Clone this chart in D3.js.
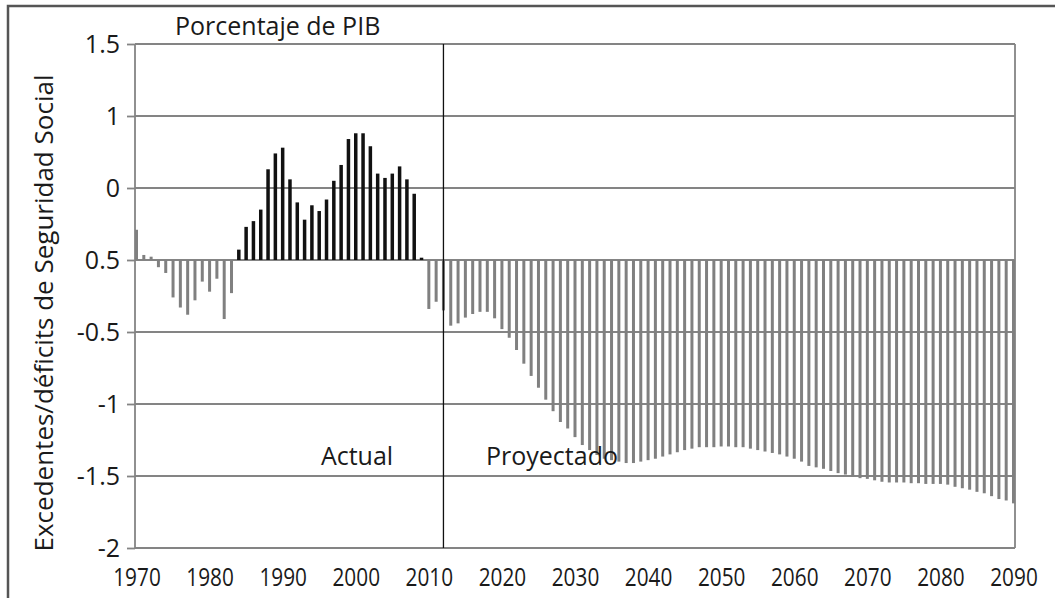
<!DOCTYPE html>
<html>
<head>
<meta charset="utf-8">
<script src="https://cdn.jsdelivr.net/npm/d3@7/dist/d3.min.js"></script>
<style>
  body { margin: 0; background: #fff; }
  svg { display: block; }
  text { font-family: "Open Sans", "Noto Sans", sans-serif; fill: #1a1a1a; }
</style>
</head>
<body>
<div id="chart"></div>
<script>
// years 1970..2090, one bar each
const firstYear = 1970;
const lastYear = 2090;
const dividerYear = 2012;
const darkFrom = 1984, darkTo = 2009;

// surplus / deficit, % of GDP
const actualValues = [
  0.21, 0.035, 0.023, -0.05, -0.09, -0.26, -0.33, -0.38, -0.28, -0.15,
  -0.22, -0.13, -0.41, -0.23, 0.072, 0.23, 0.27, 0.35, 0.63, 0.74,
  0.78, 0.56, 0.40, 0.28, 0.38, 0.34, 0.42, 0.55, 0.66, 0.84,
  0.88, 0.88, 0.79, 0.60, 0.57, 0.60, 0.65, 0.56, 0.46, 0.016,
  -0.34, -0.29
];
const projectedValues = [
  -0.35, -0.456, -0.44, -0.40, -0.375, -0.36, -0.36, -0.405,
  -0.48, -0.54, -0.625, -0.72, -0.805, -0.887, -0.97, -1.05, -1.125, -1.17,
  -1.23, -1.285, -1.32, -1.354, -1.38, -1.39, -1.40, -1.41, -1.41, -1.40,
  -1.39, -1.38, -1.365, -1.35, -1.335, -1.32, -1.31, -1.30, -1.30, -1.30,
  -1.295, -1.295, -1.30, -1.30, -1.31, -1.32, -1.33, -1.34, -1.35, -1.365,
  -1.38, -1.40, -1.43, -1.44, -1.45, -1.465, -1.48, -1.49, -1.505, -1.515,
  -1.52, -1.53, -1.54, -1.545, -1.545, -1.545, -1.55, -1.55, -1.555, -1.555,
  -1.555, -1.56, -1.575, -1.585, -1.595, -1.61, -1.62, -1.64, -1.66, -1.67,
  -1.69
];

const yTickValues = [1.5, 1, 0.5, 0, -0.5, -1, -1.5, -2];
const yTickLabels = ['1.5', '1', '0', '0.5', '-0.5', '-1', '-1.5', '-2'];
const xTickValues = d3.range(1970, 2091, 10);

const titleText = 'Porcentaje de PIB';
const yTitle = 'Excedentes/déficits de Seguridad Social';

const width = 1055, height = 598;
const plotLeft = 135, plotRight = 1015, plotTop = 44, plotBottom = 548;

const values = actualValues.concat(projectedValues);
const data = values.map((v, i) => ({ year: firstYear + i, value: v }));

const svg = d3.select('#chart').append('svg')
  .attr('width', width)
  .attr('height', height);

const x = d3.scaleLinear().domain([firstYear, lastYear]).range([plotLeft + 1.5, plotRight - 1.5]);
const y = d3.scaleLinear().domain([-2, 1.5]).range([plotBottom, plotTop]);

// outer frame (top and left only)
svg.append('path')
  .attr('d', `M8,${height} V6 H${width}`)
  .attr('fill', 'none')
  .attr('stroke', '#555')
  .attr('stroke-width', 2.5);

// gridlines
svg.append('g')
  .selectAll('line')
  .data(yTickValues)
  .join('line')
  .attr('x1', plotLeft).attr('x2', plotRight)
  .attr('y1', d => y(d)).attr('y2', d => y(d))
  .attr('stroke', '#848484')
  .attr('stroke-width', 1.8);

// plot sides
svg.append('g')
  .selectAll('line')
  .data([plotLeft, plotRight])
  .join('line')
  .attr('x1', d => d).attr('x2', d => d)
  .attr('y1', plotTop).attr('y2', plotBottom)
  .attr('stroke', '#848484')
  .attr('stroke-width', 1.8);

// bars
svg.append('g')
  .selectAll('rect')
  .data(data)
  .join('rect')
  .attr('x', d => x(d.year) - (d.year >= darkFrom && d.year <= darkTo ? 1.75 : 1.5))
  .attr('width', d => d.year >= darkFrom && d.year <= darkTo ? 3.5 : 3)
  .attr('y', d => y(Math.max(0, d.value)))
  .attr('height', d => Math.abs(y(d.value) - y(0)))
  .attr('fill', d => (d.year >= darkFrom && d.year <= darkTo) ? '#111' : '#808080');

// actual / projected divider
svg.append('line')
  .attr('x1', x(dividerYear)).attr('x2', x(dividerYear))
  .attr('y1', plotTop).attr('y2', plotBottom)
  .attr('stroke', '#111')
  .attr('stroke-width', 1.3);

// y axis
const yAxis = d3.axisLeft(y)
  .tickValues(yTickValues)
  .tickFormat((d, i) => yTickLabels[i])
  .tickSize(8)
  .tickPadding(7);
const gy = svg.append('g')
  .attr('transform', `translate(${plotLeft},0)`)
  .call(yAxis);
gy.select('.domain').remove();
gy.selectAll('line').attr('stroke', '#848484').attr('stroke-width', 1.8);
gy.selectAll('text').attr('font-size', 25).attr('fill', '#1a1a1a')
  .style('font-family', '"Open Sans", sans-serif');

// x axis (condensed labels)
const xAxis = d3.axisBottom(x)
  .tickValues(xTickValues)
  .tickFormat(d3.format('d'))
  .tickSize(0)
  .tickPadding(20);
const gx = svg.append('g')
  .attr('transform', `translate(0,${plotBottom})`)
  .call(xAxis);
gx.select('.domain').remove();
gx.selectAll('text')
  .attr('font-size', 26)
  .attr('fill', '#1a1a1a')
  .attr('transform', 'scale(0.8,1)')
  .style('font-family', '"Open Sans", sans-serif');

// titles
svg.append('text')
  .attr('x', 175).attr('y', 35)
  .attr('font-size', 25)
  .text(titleText);

svg.append('text')
  .attr('transform', `translate(53,${(80 + 546) / 2}) rotate(-90)`)
  .attr('text-anchor', 'middle')
  .attr('font-size', 26)
  .text(yTitle);

svg.append('text')
  .attr('x', 357).attr('y', 465)
  .attr('text-anchor', 'middle')
  .attr('font-size', 25)
  .text('Actual');

svg.append('text')
  .attr('x', 552).attr('y', 465)
  .attr('text-anchor', 'middle')
  .attr('font-size', 25)
  .text('Proyectado');
</script>
</body>
</html>
